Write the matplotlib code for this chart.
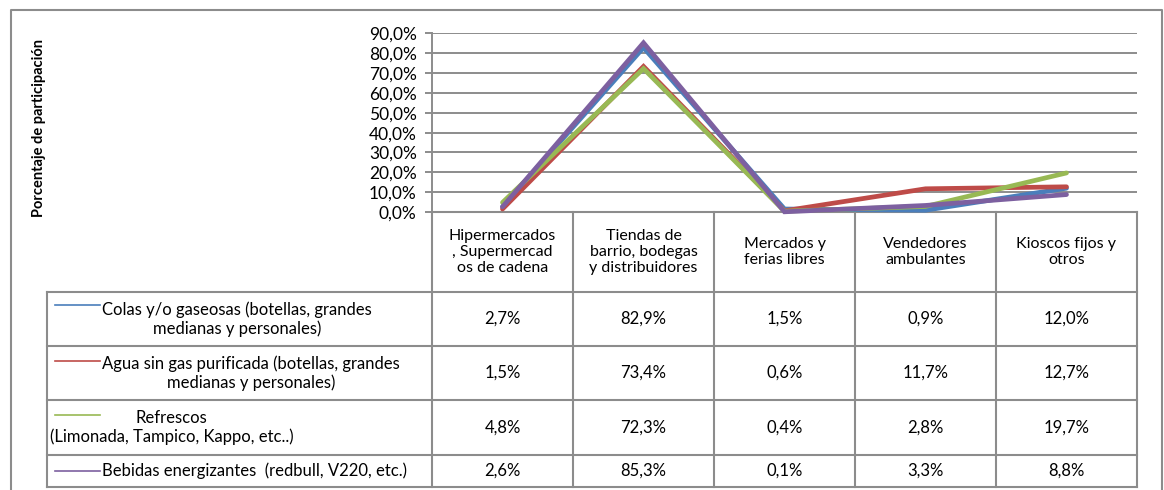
import matplotlib.pyplot as plt
from matplotlib.lines import Line2D

plt.rcParams['font.family'] = ['Lato', 'DejaVu Sans']

# data (percent)
canales = ["Hipermercados\n, Supermercad\nos de cadena",
           "Tiendas de\nbarrio, bodegas\ny distribuidores",
           "Mercados y\nferias libres",
           "Vendedores\nambulantes",
           "Kioscos fijos y\notros"]
series = ["Colas y/o gaseosas (botellas, grandes\nmedianas y personales)",
          "Agua sin gas purificada (botellas, grandes\nmedianas y personales)",
          "Refrescos\n(Limonada, Tampico, Kappo, etc..)",
          "Bebidas energizantes  (redbull, V220, etc.)"]
colas = [2.7, 82.9, 1.5, 0.9, 12.0]
agua = [1.5, 73.4, 0.6, 11.7, 12.7]
refrescos = [4.8, 72.3, 0.4, 2.8, 19.7]
bebidas = [2.6, 85.3, 0.1, 3.3, 8.8]
valores = [colas, agua, refrescos, bebidas]
colores = ["#4A7EBB", "#BE4B48", "#98B954", "#7D60A0"]
yticks = [0, 10, 20, 30, 40, 50, 60, 70, 80, 90]

W, H = 1164, 490
fig = plt.figure(figsize=(W / 100, H / 100), dpi=100)
GRIS = "#8c8c8c"

def rect(x0, y0, x1, y1):
    return [x0 / W, 1 - y1 / H, (x1 - x0) / W, (y1 - y0) / H]

# overlay in pixel coords for the data table and frame
tb = fig.add_axes([0, 0, 1, 1])
tb.set_xlim(0, W)
tb.set_ylim(H, 0)
tb.axis('off')

# chart frame
tb.plot([11, 11, 1162, 1162], [492, 10, 10, 492], color=GRIS, lw=1.5)

# plot area
ax = fig.add_axes(rect(432, 33.5, 1137, 212))
x = list(range(len(canales)))
ax.set_xlim(-0.5, len(canales) - 0.5)
ax.set_ylim(0, 90)
ax.set_yticks(yticks)
ax.set_yticklabels([f"{t:.1f}%".replace('.', ',') for t in yticks], fontsize=12.5)
ax.set_xticks([])
ax.yaxis.grid(True, color=GRIS, lw=1.4)
ax.set_axisbelow(True)
for s in ['top', 'right', 'bottom']:
    ax.spines[s].set_visible(False)
ax.spines['left'].set_color(GRIS)
ax.spines['left'].set_linewidth(1.4)
ax.tick_params(axis='y', length=5, color=GRIS, width=1.4, pad=6)
ax.patch.set_alpha(0)
ax.set_ylabel("Porcentaje de participación", fontsize=10.5, fontweight='bold')
ax.yaxis.set_label_coords(-(432 - 46) / 705, 0.47)

for vals, c in zip(valores, colores):
    ax.plot(x, vals, color=c, lw=3.4, solid_capstyle='round',
            solid_joinstyle='miter', clip_on=False, zorder=3)

# data table
col_l, col_w = 432, 141
cols = [col_l + i * col_w for i in range(len(canales) + 1)]
rows = [292, 346, 400, 455, 487]
tl = dict(color=GRIS, lw=1.5)
tb.plot([cols[0], cols[-1]], [212, 212], **tl)
for cx in cols:
    tb.plot([cx, cx], [212, rows[-1]], **tl)
for ry in rows:
    tb.plot([47, cols[-1]], [ry, ry], **tl)
tb.plot([47, 47], [rows[0], rows[-1]], **tl)

for i, lab in enumerate(canales):
    tb.text(cols[i] + col_w / 2, 252, lab, ha='center', va='center',
            fontsize=11.5, linespacing=1.2)

key_y = [305, 361, 415, 471]
text_x = [102, 102, 50, 102]
for r, (lab, vals, c) in enumerate(zip(series, valores, colores)):
    yc = (rows[r] + rows[r + 1]) / 2
    tb.add_line(Line2D([55, 100], [key_y[r], key_y[r]], color=c, lw=1.2))
    tb.text(text_x[r], yc, lab, ha='left', va='center', ma='center',
            fontsize=12, linespacing=1.15)
    for i, v in enumerate(vals):
        tb.text(cols[i] + col_w / 2, yc, f"{v:.1f}%".replace('.', ','),
                ha='center', va='center', fontsize=12)

fig.savefig("out.png", dpi=100)
